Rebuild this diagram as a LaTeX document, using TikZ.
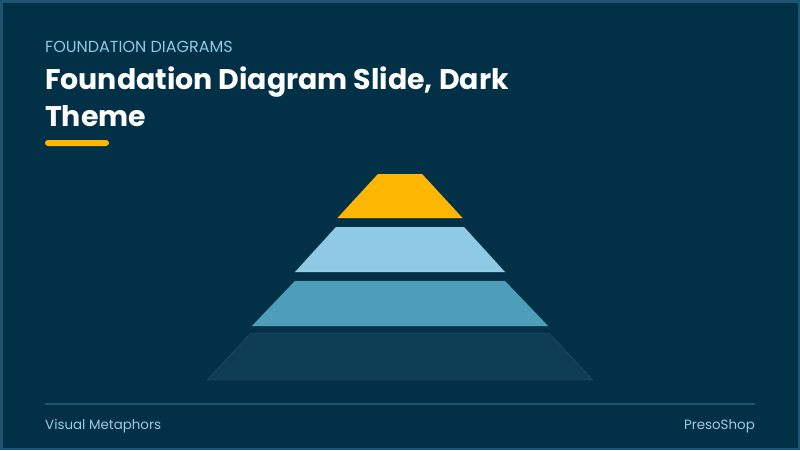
\documentclass[tikz,border=0pt]{standalone}
\usepackage{fontspec}
\setmainfont{Poppins}
\usetikzlibrary{positioning}

\definecolor{sfondo}{HTML}{023047}
\definecolor{bordo}{HTML}{1D5473}
\definecolor{oro}{HTML}{FFB703}
\definecolor{celeste}{HTML}{8ECAE6}
\definecolor{azzurro}{HTML}{4D9EB8}
\definecolor{scuro}{HTML}{0E3D56}
\definecolor{piede}{HTML}{9FCBDD}

\tikzset{
    livello/.style={draw=white, draw opacity=0.08, line width=0.8pt},
    testo/.style={inner sep=0pt, anchor=base west}
}

\begin{document}
\begin{tikzpicture}[x=1pt,y=-1pt]
            % Sfondo e cornice
            \useasboundingbox (0,0) rectangle (800,450);
            \fill[sfondo] (0,0) rectangle (800,450);
            \draw[bordo, line width=2.5pt] (1.25,1.25) rectangle (798.75,448.75);

            % Titoli
            \node[testo, text=celeste, font=\fontsize{16}{19}\selectfont] (sopra) at (45,52) {FOUNDATION DIAGRAMS};
            \node[testo, text=white, font=\fontsize{28.4}{36}\bfseries] (riga1) at (45,89) {Foundation Diagram Slide, Dark};
            \node[testo, text=white, font=\fontsize{28.4}{36}\bfseries] (riga2) at (45,126) {Theme};
            \fill[oro, rounded corners=3pt] (45,140) rectangle (109,146);

            % Disegna la piramide (y alto, y basso, semilarghezza alta, bassa, colore)
            \foreach \ya/\yb/\wa/\wb/\col in {174/218/22/62.5/oro, 227/272/64/105/celeste,
                                                281/326/105/148/azzurro, 333/380/149/193/scuro}
                \filldraw[livello, fill=\col] (400-\wa,\ya) -- (400+\wa,\ya) -- (400+\wb,\yb) -- (400-\wb,\yb) -- cycle;

            % Pie' di pagina
            \draw[bordo, line width=1.2pt] (45,404) -- (755,404);
            \node[testo, text=piede, font=\fontsize{13.4}{16}\selectfont] (sinistra) at (45,429) {Visual Metaphors};
            \node[testo, anchor=base east, text=piede, font=\fontsize{13.4}{16}\selectfont] (destra) at (755,429) {PresoShop};

        \end{tikzpicture}
\end{document}
